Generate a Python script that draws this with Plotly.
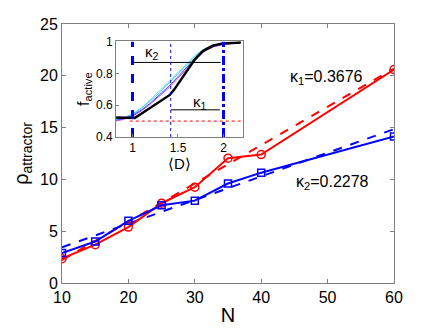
import plotly.graph_objects as go

# main panel: attractor density vs network size
N = [10, 15, 20, 25, 30, 35, 40, 60]
rho_red = [2.35, 3.7, 5.4, 7.7, 9.25, 12.05, 12.4, 20.6]
rho_blue = [2.9, 4.0, 6.0, 7.5, 7.95, 9.6, 10.65, 14.15]

# linear fits (end points)
fit_N = [10, 60]
fit_red = [2.2, 20.7]
fit_blue = [3.45, 14.85]

kappa1_text = "κ<sub>1</sub>=0.3676"
kappa2_text = "κ<sub>2</sub>=0.2278"

# inset: f_active vs <D>
D_black = [0.81, 0.9, 1.025, 1.08, 1.19, 1.30, 1.41, 1.46, 1.52, 1.59, 1.68, 1.77, 1.88, 1.99, 2.10, 2.19]
f_black = [0.522, 0.522, 0.52, 0.54, 0.58, 0.62, 0.665, 0.70, 0.75, 0.81, 0.885, 0.94, 0.975, 0.99, 0.994, 0.995]
D_col = [0.81, 0.9, 1.0, 1.1, 1.2, 1.3, 1.4, 1.5, 1.6, 1.7, 1.8, 1.9, 2.0, 2.1, 2.19]
f_cyan = [0.51, 0.52, 0.54, 0.58, 0.63, 0.68, 0.74, 0.80, 0.86, 0.915, 0.955, 0.98, 0.99, 0.995, 0.997]
f_magenta = [0.50, 0.51, 0.53, 0.565, 0.61, 0.66, 0.71, 0.77, 0.835, 0.895, 0.945, 0.97, 0.983, 0.99, 0.995]
f_blue = [0.505, 0.515, 0.535, 0.57, 0.615, 0.665, 0.72, 0.78, 0.845, 0.905, 0.95, 0.975, 0.988, 0.993, 0.996]
f_lblue = [0.515, 0.52, 0.545, 0.585, 0.635, 0.69, 0.745, 0.805, 0.865, 0.92, 0.96, 0.982, 0.99, 0.995, 0.998]

D_marks = [1.0, 1.42, 2.0]
f_range = [0.4, 1.0]
kappa2_seg = ([1.0, 1.97], [0.87, 0.87])
kappa1_seg = ([1.42, 1.96], [0.571, 0.571])
half_line = ([0.97, 2.21], [0.5, 0.5])

FONT = "Liberation Sans"
AX = "#7f7f7f"

fig = go.Figure()

fig.add_trace(go.Scatter(x=fit_N, y=fit_red, mode="lines",
                         line=dict(color="red", width=2, dash="dash")))
fig.add_trace(go.Scatter(x=fit_N, y=fit_blue, mode="lines",
                         line=dict(color="blue", width=2, dash="dash")))
fig.add_trace(go.Scatter(x=N, y=rho_red, mode="lines+markers",
                         line=dict(color="red", width=2),
                         marker=dict(symbol="circle-open", size=8, color="red",
                                     line=dict(width=1.5))))
fig.add_trace(go.Scatter(x=N, y=rho_blue, mode="lines+markers",
                         line=dict(color="blue", width=2),
                         marker=dict(symbol="square-open", size=7, color="blue",
                                     line=dict(width=1.5))))

# inset traces
for f, c in [(f_lblue, "#66ccff"), (f_cyan, "#33e0e0"), (f_magenta, "#e040e0"), (f_blue, "#4040ff")]:
    fig.add_trace(go.Scatter(x=D_col, y=f, mode="lines", xaxis="x2", yaxis="y2",
                             line=dict(color=c, width=1)))
fig.add_trace(go.Scatter(x=D_black, y=f_black, mode="lines", xaxis="x2", yaxis="y2",
                         line=dict(color="black", width=2.5)))

fig.add_trace(go.Scatter(x=half_line[0], y=half_line[1], mode="lines", xaxis="x2", yaxis="y2",
                         line=dict(color="red", width=1, dash="dot")))
fig.add_trace(go.Scatter(x=kappa2_seg[0], y=kappa2_seg[1], mode="lines", xaxis="x2", yaxis="y2",
                         line=dict(color="black", width=1)))
fig.add_trace(go.Scatter(x=kappa1_seg[0], y=kappa1_seg[1], mode="lines", xaxis="x2", yaxis="y2",
                         line=dict(color="black", width=1)))
for d, dash, w in zip(D_marks, ["dash", "dot", "dashdot"], [3, 1, 3]):
    fig.add_trace(go.Scatter(x=[d, d], y=f_range, mode="lines", xaxis="x2", yaxis="y2",
                             line=dict(color="blue", width=w, dash=dash)))

# the page body adds an 8px margin, so the figure is 8px smaller and margins shifted
fig.update_layout(
    width=428, height=320,
    margin=dict(l=54, r=42, t=16, b=45),
    plot_bgcolor="white", paper_bgcolor="white",
    showlegend=False,
    font=dict(family=FONT, color="black", size=16),
    xaxis=dict(range=[10, 60], tickvals=[10, 20, 30, 40, 50, 60], ticks="inside",
               ticklen=4, tickcolor=AX, showline=True, linecolor=AX, mirror="ticks",
               showgrid=False, zeroline=False, tickfont=dict(size=16), automargin=False,
               title=dict(text="N", font=dict(size=20), standoff=2)),
    yaxis=dict(range=[0, 25], tickvals=[0, 5, 10, 15, 20, 25], ticks="inside",
               ticklen=4, tickcolor=AX, showline=True, linecolor=AX, mirror="ticks",
               showgrid=False, zeroline=False, tickfont=dict(size=16), automargin=False,
               title=dict(text="ρ<sub>attractor</sub>", font=dict(size=20), standoff=6)),
    xaxis2=dict(domain=[0.163, 0.544], anchor="y2", range=[0.82, 2.21],
                tickvals=[1, 1.5, 2], ticktext=["1", "1.5", "2"], ticks="inside", ticklen=3,
                tickcolor=AX, showline=True, linecolor=AX, mirror=True, showgrid=False,
                zeroline=False, tickfont=dict(size=12), automargin=False,
                title=dict(text="⟨D⟩", font=dict(size=15), standoff=0)),
    yaxis2=dict(domain=[0.564, 0.933], anchor="x2", range=[0.4, 1.003],
                tickvals=[0.4, 0.6, 0.8, 1], ticktext=["0.4", "0.6", "0.8", "1"],
                ticks="inside", ticklen=3, tickcolor=AX, showline=True, linecolor=AX,
                mirror=True, showgrid=False, zeroline=False, tickfont=dict(size=12),
                automargin=False,
                title=dict(text="f<sub>active</sub>", font=dict(size=16), standoff=2)),
    annotations=[
        dict(x=49.9, y=19.8, xref="x", yref="y", text=kappa1_text, showarrow=False,
             font=dict(size=16)),
        dict(x=50.8, y=9.7, xref="x", yref="y", text=kappa2_text, showarrow=False,
             font=dict(size=16)),
        dict(x=1.21, y=0.93, xref="x2", yref="y2", text="κ<sub>2</sub>", showarrow=False,
             font=dict(size=15)),
        dict(x=1.74, y=0.62, xref="x2", yref="y2", text="κ<sub>1</sub>", showarrow=False,
             font=dict(size=15)),
    ],
)

fig.write_html("out.html")
